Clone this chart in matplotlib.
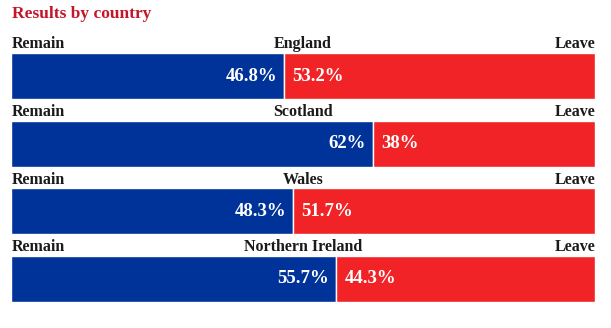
"""Results by country: Remain vs Leave split bars."""

import matplotlib

matplotlib.use("Agg")
import matplotlib.pyplot as plt
from matplotlib.transforms import blended_transform_factory

COUNTRIES = ["England", "Scotland", "Wales", "Northern Ireland"]
REMAIN = [46.8, 62.0, 48.3, 55.7]
LEAVE = [53.2, 38.0, 51.7, 44.3]
REMAIN_LABELS = ["46.8%", "62%", "48.3%", "55.7%"]
LEAVE_LABELS = ["53.2%", "38%", "51.7%", "44.3%"]

BLUE = "#003399"
RED = "#f12326"
TITLE_RED = "#c4162a"
INK = "#1a1a1a"
FONT = "Liberation Serif"

fig = plt.figure(figsize=(6.11, 3.28), dpi=100)
fig.patch.set_facecolor("white")

ax = fig.add_axes([11 / 611, 26 / 328, 584 / 611, 249 / 328])
ax.set_xlim(0, 100)
bar_h = 0.68
ax.set_ylim(len(COUNTRIES) - 1 + bar_h / 2, -bar_h / 2)
ax.axis("off")

ys = list(range(len(COUNTRIES)))
ax.barh(ys, REMAIN, height=bar_h, color=BLUE, edgecolor="white", linewidth=1)
ax.barh(ys, LEAVE, left=REMAIN, height=bar_h, color=RED, edgecolor="white", linewidth=1)

tr = blended_transform_factory(ax.transAxes, ax.transData)
for y, name, r, rl, ll in zip(ys, COUNTRIES, REMAIN, REMAIN_LABELS, LEAVE_LABELS):
    ly = y - bar_h / 2 - 0.13
    ax.text(0.002, ly, "Remain", transform=tr, ha="left", va="center",
            fontsize=11.5, fontweight="bold", family=FONT, color=INK)
    ax.text(1.0, ly, "Leave", transform=tr, ha="right", va="center",
            fontsize=11.5, fontweight="bold", family=FONT, color=INK)
    ax.text(0.5, ly, name, transform=tr, ha="center", va="center",
            fontsize=11.5, fontweight="bold", family=FONT, color=INK)
    ax.text(r - 1.2, y, rl, ha="right", va="center", fontsize=13.5,
            fontweight="bold", family=FONT, color="white")
    ax.text(r + 1.4, y, ll, ha="left", va="center", fontsize=13.5,
            fontweight="bold", family=FONT, color="white")

fig.text(12 / 611, 1 - 14 / 328, "Results by country", ha="left", va="center",
         fontsize=12.5, fontweight="bold", family=FONT, color=TITLE_RED)

fig.savefig("out.png", dpi=100)
